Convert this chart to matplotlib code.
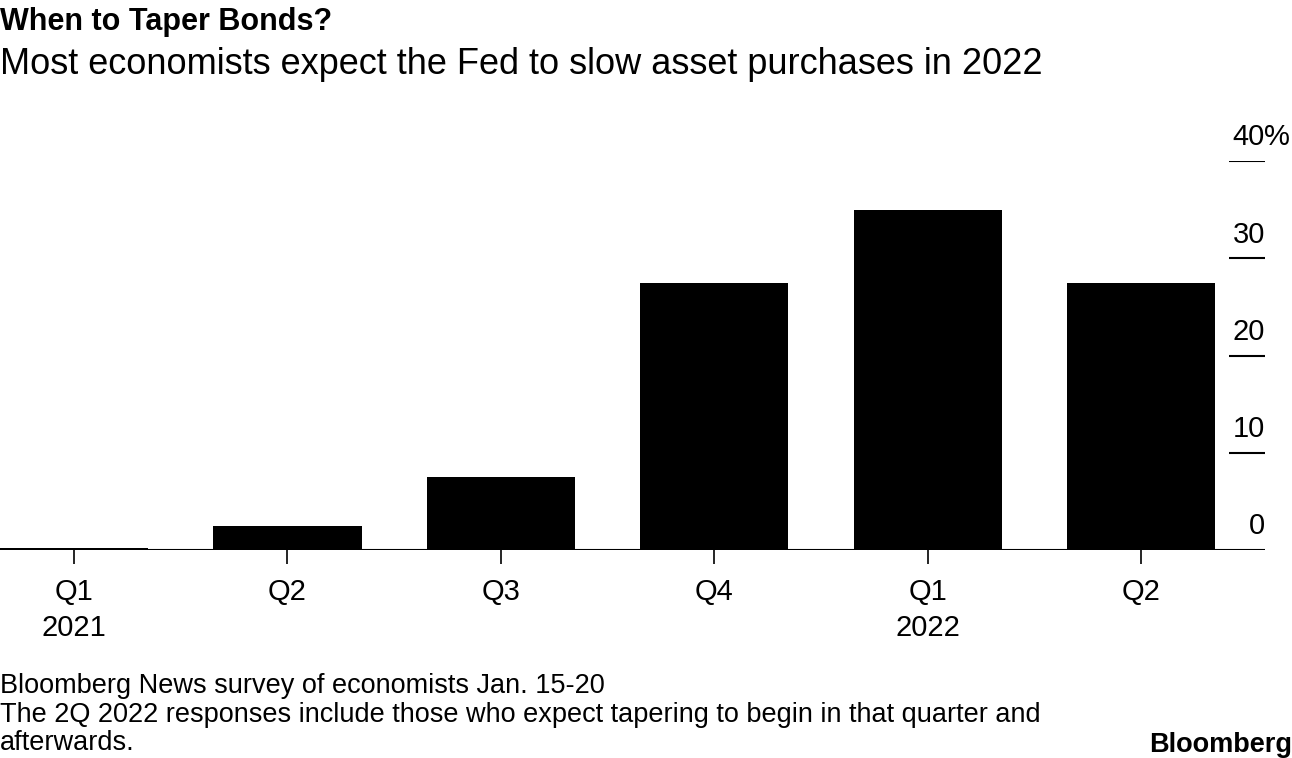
import matplotlib.pyplot as plt
import numpy as np

quarters = ['Q1', 'Q2', 'Q3', 'Q4', 'Q1', 'Q2']
years = ['2021', '', '', '', '2022', '']
share = [0.2, 2.5, 7.5, 27.5, 35.0, 27.5]
yticks = [0, 10, 20, 30, 40]
ytick_labels = ['0', '10', '20', '30', '40%']

plt.rcParams['font.family'] = ['Liberation Sans', 'DejaVu Sans']

fig = plt.figure(figsize=(12.92, 7.58), dpi=100)
ax = fig.add_axes([0, 208 / 758, 1265 / 1292, 389 / 758])

ind = np.arange(len(share))
ax.bar(ind, share, 0.694, color='black', zorder=2)
ax.set_xlim(-0.347, 5.58)
ax.set_ylim(0, 40)

# baseline and right-hand tick lines
ax.axhline(0, color='black', lw=1.5, zorder=3)
ax.hlines(yticks[1:], 5.412, 5.58, color='black', lw=1.5)
for v, lab in zip(yticks, ytick_labels):
    if lab.endswith('%'):
        ax.text(5.58, v + 1.0, lab[:-1], ha='right', va='bottom', fontsize=21)
        ax.text(5.575, v + 1.0, '%', ha='left', va='bottom', fontsize=21)
    else:
        ax.text(5.58, v + 1.0, lab, ha='right', va='bottom', fontsize=21)

ax.set_xticks(ind)
ax.set_xticklabels(quarters, fontsize=21)
ax.tick_params(axis='x', length=10, width=1.2, pad=10)
for i, yr in enumerate(years):
    if yr:
        ax.annotate(yr, (i, 0), xytext=(0, -78), textcoords='offset pixels',
                    ha='center', va='center', fontsize=21)
ax.set_yticks([])
for s in ax.spines.values():
    s.set_visible(False)
ax.patch.set_alpha(0)

fig.text(0.0, 1 - 22 / 758, 'When to Taper Bonds?', fontsize=22, fontweight='bold',
         va='center', ha='left')
fig.text(0.0, 1 - 64 / 758, 'Most economists expect the Fed to slow asset purchases in 2022',
         fontsize=26, va='center', ha='left')
fig.text(0.0, 1 - 686 / 758, 'Bloomberg News survey of economists Jan. 15-20',
         fontsize=19.5, va='center', ha='left')
fig.text(0.0, 1 - 715 / 758,
         'The 2Q 2022 responses include those who expect tapering to begin in that quarter and',
         fontsize=19.5, va='center', ha='left')
fig.text(0.0, 1 - 743 / 758, 'afterwards.', fontsize=19.5, va='center', ha='left')
fig.text(1.0, 1 - 745 / 758, 'Bloomberg', fontsize=19.5, fontweight='bold',
         va='center', ha='right')

fig.savefig('out.png', dpi=100)
